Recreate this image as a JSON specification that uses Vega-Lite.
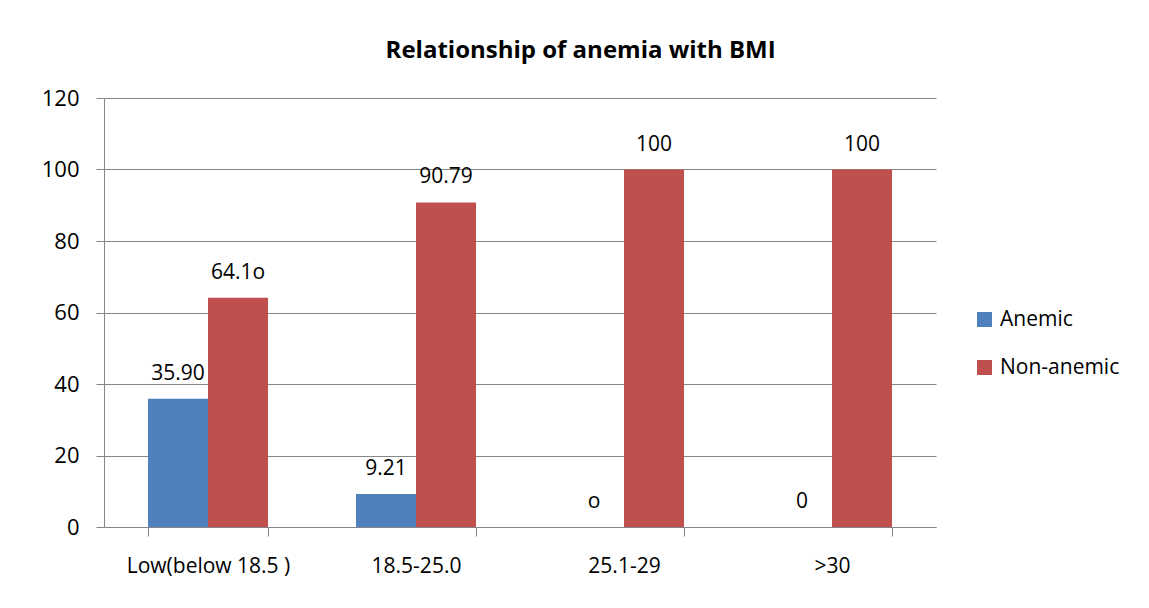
{
  "$schema": "https://vega.github.io/schema/vega-lite/v6.json",
  "width": 832,
  "height": 429,
  "padding": {"left": 41, "top": 39, "right": 5, "bottom": 5},
  "background": "white",
  "title": {
    "text": "Relationship of anemia with BMI",
    "font": "Open Sans",
    "fontSize": 24,
    "fontWeight": "bold",
    "color": "black",
    "anchor": "middle",
    "frame": "bounds",
    "offset": 24
  },
  "data": {
    "values": [
      {"bmi": "Low(below 18.5 )", "status": "Anemic", "value": 35.9, "label": "35.90"},
      {"bmi": "Low(below 18.5 )", "status": "Non-anemic", "value": 64.1, "label": "64.1o"},
      {"bmi": "18.5-25.0", "status": "Anemic", "value": 9.21, "label": "9.21"},
      {"bmi": "18.5-25.0", "status": "Non-anemic", "value": 90.79, "label": "90.79"},
      {"bmi": "25.1-29", "status": "Anemic", "value": 0, "label": "o"},
      {"bmi": "25.1-29", "status": "Non-anemic", "value": 100, "label": "100"},
      {"bmi": ">30", "status": "Anemic", "value": 0, "label": "0"},
      {"bmi": ">30", "status": "Non-anemic", "value": 100, "label": "100"}
    ]
  },
  "encoding": {
    "x": {
      "field": "bmi",
      "type": "nominal",
      "sort": ["Low(below 18.5 )", "18.5-25.0", "25.1-29", ">30"],
      "scale": {"paddingInner": 0.423, "paddingOuter": 0.2115},
      "axis": {
        "title": null,
        "labelAngle": 0,
        "tickBand": "extent",
        "tickSize": 9,
        "labelPadding": 19,
        "labelFont": "Open Sans",
        "labelFontSize": 21,
        "labelColor": "black",
        "domainColor": "#868686",
        "tickColor": "#868686",
        "grid": false
      }
    },
    "xOffset": {
      "field": "status",
      "type": "nominal",
      "sort": ["Anemic", "Non-anemic"],
      "scale": {"paddingInner": 0, "paddingOuter": 0}
    },
    "y": {
      "field": "value",
      "type": "quantitative",
      "scale": {"domain": [0, 120], "nice": false},
      "axis": {
        "title": null,
        "values": [0, 20, 40, 60, 80, 100, 120],
        "tickSize": 8,
        "labelPadding": 17,
        "labelFont": "Open Sans",
        "labelFontSize": 22,
        "labelColor": "black",
        "domainColor": "#868686",
        "tickColor": "#868686",
        "gridColor": "#868686",
        "grid": true
      }
    }
  },
  "layer": [
    {
      "mark": {"type": "bar"},
      "encoding": {
        "color": {
          "field": "status",
          "type": "nominal",
          "sort": ["Anemic", "Non-anemic"],
          "scale": {"domain": ["Anemic", "Non-anemic"], "range": ["#4F81BD", "#C0504D"]},
          "legend": {
            "title": null,
            "orient": "none",
            "legendX": 870,
            "legendY": 211,
            "symbolType": "square",
            "symbolSize": 225,
            "symbolStrokeWidth": 0,
            "labelFont": "Open Sans",
            "labelFontSize": 21,
            "labelColor": "black",
            "labelOffset": 5,
            "rowPadding": 26
          }
        }
      }
    },
    {
      "mark": {"type": "text", "baseline": "middle", "dy": -25, "font": "Open Sans", "fontSize": 21, "color": "black"},
      "encoding": {"text": {"field": "label"}}
    }
  ],
  "config": {"view": {"stroke": null}}
}
